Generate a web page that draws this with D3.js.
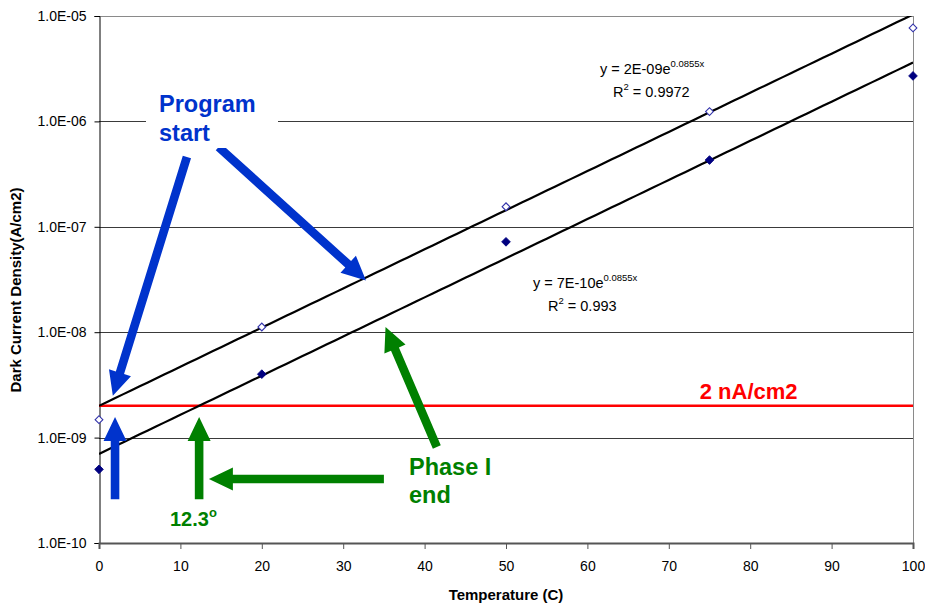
<!DOCTYPE html>
<html>
<head>
<meta charset="utf-8">
<script src="https://cdn.jsdelivr.net/npm/d3@7"></script>
<style>
  html, body { margin: 0; padding: 0; background: #fff; }
  svg { display: block; font-family: Arial, "Liberation Sans", sans-serif; }
</style>
</head>
<body>
<svg id="chart" width="925" height="605"></svg>
<script>
// ---- data ----
const temperatures = [0, 20, 50, 75, 100];
const densityOpen = [1.48e-9, 1.12e-8, 1.55e-7, 1.24e-6, 7.7e-6];   // open diamonds
const densityFilled = [5.0e-10, 4.0e-9, 7.2e-8, 4.3e-7, 2.7e-6];   // filled diamonds
const fitOpen = { a: 2e-9, k: 0.0855, label: "y = 2E-09e", exp: "0.0855x", r2: "0.9972" };
const fitFilled = { a: 7e-10, k: 0.0855, label: "y = 7E-10e", exp: "0.0855x", r2: "0.993" };
const limitValue = 2e-9;
const yTicks = [1e-10, 1e-9, 1e-8, 1e-7, 1e-6, 1e-5];
const yTickLabels = ["1.0E-10", "1.0E-09", "1.0E-08", "1.0E-07", "1.0E-06", "1.0E-05"];
const xTicks = [0, 10, 20, 30, 40, 50, 60, 70, 80, 90, 100];

// ---- layout ----
const svg = d3.select("#chart");
const L = 99, R = 913, T = 16, B = 543;
const x = d3.scaleLinear().domain([0, 100]).range([L, R]);
const y = d3.scaleLog().domain([1e-10, 1e-5]).range([B, T]);

// gridlines
svg.append("g").selectAll("line").data(yTicks.filter(d => d > 1e-10)).join("line")
  .attr("x1", L).attr("x2", R)
  .attr("y1", d => Math.round(y(d)) + 0.5).attr("y2", d => Math.round(y(d)) + 0.5)
  .attr("stroke", d => d === 1e-5 ? "#8a8a8a" : "#3a3a3a").attr("stroke-width", 1);

// right border
svg.append("line").attr("x1", R + 0.5).attr("x2", R + 0.5).attr("y1", T).attr("y2", B)
  .attr("stroke", "#8a8a8a");

// y axis
const yAxis = d3.axisLeft(y).tickValues(yTicks).tickFormat((d, i) => yTickLabels[i]).tickSize(5).tickPadding(8);
const gy = svg.append("g").attr("transform", `translate(${L + 0.5},0)`).call(yAxis);
gy.select(".domain").attr("stroke", "#000");
gy.selectAll(".tick line").attr("stroke", "#000");
gy.selectAll("text").attr("font-size", 14).attr("fill", "#000").attr("font-family", "Arial, 'Liberation Sans', sans-serif");

// x axis
const xAxis = d3.axisBottom(x).tickValues(xTicks).tickSize(6).tickPadding(12);
const gx = svg.append("g").attr("transform", `translate(0,${B})`).call(xAxis);
gx.select(".domain").attr("stroke", "#555").attr("stroke-width", 2);
gx.selectAll(".tick line").attr("stroke", "#555").attr("stroke-width", 1);
gx.selectAll("text").attr("font-size", 14).attr("fill", "#000").attr("font-family", "Arial, 'Liberation Sans', sans-serif");

// axis titles
svg.append("text").attr("x", 506).attr("y", 600).attr("text-anchor", "middle")
  .attr("font-size", 15).attr("font-weight", "bold").text("Temperature (C)");
svg.append("text").attr("transform", "translate(21,290) rotate(-90)").attr("text-anchor", "middle")
  .attr("font-size", 15).attr("font-weight", "bold").text("Dark Current Density(A/cm2)");

// limit line
svg.append("line").attr("x1", L).attr("x2", R).attr("y1", y(limitValue)).attr("y2", y(limitValue))
  .attr("stroke", "#ff0000").attr("stroke-width", 2.5);
svg.append("text").attr("x", x(73.8)).attr("y", y(limitValue) - 7)
  .attr("font-size", 22).attr("font-weight", "bold").attr("fill", "#ff0000").text("2 nA/cm2");

// trendlines
svg.append("clipPath").attr("id", "plotclip").append("rect")
  .attr("x", L).attr("y", T).attr("width", R - L).attr("height", B - T);
const xs = d3.range(0, 100.01, 1);
const line = d3.line().x(d => x(d[0])).y(d => y(d[1]));
[fitOpen, fitFilled].forEach(f => {
  svg.append("path").attr("clip-path", "url(#plotclip)")
    .attr("d", line(xs.map(t => [t, f.a * Math.exp(f.k * t)])))
    .attr("fill", "none").attr("stroke", "#000").attr("stroke-width", 2.2);
});

// markers
const sym = s => d3.symbol().type(d3.symbolSquare).size(s)();
svg.append("g").selectAll("path").data(temperatures.map((t, i) => [t, densityOpen[i]])).join("path")
  .attr("d", sym(30))
  .attr("transform", d => `translate(${x(d[0])},${y(d[1])}) rotate(45)`)
  .attr("fill", "#fff").attr("stroke", "#3333aa").attr("stroke-width", 1.1);
svg.append("g").selectAll("path").data(temperatures.map((t, i) => [t, densityFilled[i]])).join("path")
  .attr("d", sym(38))
  .attr("transform", d => `translate(${x(d[0])},${y(d[1])}) rotate(45)`)
  .attr("fill", "#000080").attr("stroke", "#000080").attr("stroke-width", 0.8);

// equation labels
function eq(f, x0, yb, rx) {
  const t = svg.append("text").attr("x", x0).attr("y", yb).attr("font-size", 14.5).attr("fill", "#000");
  t.append("tspan").text(f.label);
  t.append("tspan").attr("dy", -7).attr("font-size", 9.5).text(f.exp);
  const t2 = svg.append("text").attr("x", rx).attr("y", yb + 23).attr("font-size", 14.5).attr("fill", "#000");
  t2.append("tspan").text("R");
  t2.append("tspan").attr("dy", -7).attr("font-size", 9.5).text("2");
  t2.append("tspan").attr("dy", 7).text(" = " + f.r2);
}
eq(fitOpen, 600, 74, 613);
eq(fitFilled, 533, 288, 548);

// arrows (annotation coordinates in data units)
function arrow(t0, v0, t1, v1, color) {
  const x1 = x(t0), y1 = y(v0), x2 = x(t1), y2 = y(v1);
  const dx = x2 - x1, dy = y2 - y1, len = Math.hypot(dx, dy);
  const ux = dx / len, uy = dy / len, nx = -uy, ny = ux;
  const sw = 4.3, hw = 11.5, hl = 24;
  const bx = x2 - ux * hl, by = y2 - uy * hl;
  const pts = [
    [x1 + nx * sw, y1 + ny * sw], [bx + nx * sw, by + ny * sw], [bx + nx * hw, by + ny * hw],
    [x2, y2], [bx - nx * hw, by - ny * hw], [bx - nx * sw, by - ny * sw], [x1 - nx * sw, y1 - ny * sw]
  ];
  svg.append("path").attr("d", "M" + pts.map(p => p.join(",")).join("L") + "Z").attr("fill", color);
}
const blue = "#0033cc", green = "#008000";
arrow(1.97, 2.6e-10, 1.97, 1.57e-9, blue);
arrow(12.3, 2.6e-10, 12.3, 1.57e-9, green);
arrow(35, 4.05e-10, 13.5, 4.05e-10, green);
arrow(41.5, 8.15e-10, 35.2, 1.12e-8, green);
arrow(10.8, 4.6e-7, 1.7, 2.5e-9, blue);
arrow(14.7, 5.7e-7, 32.8, 3.1e-8, blue);

// annotation texts
svg.append("rect").attr("x", 146).attr("y", 88).attr("width", 132).attr("height", 60).attr("fill", "#fff");
svg.append("text").attr("x", 159).attr("y", 112).attr("font-size", 23.5).attr("font-weight", "bold").attr("fill", blue).text("Program");
svg.append("text").attr("x", 159).attr("y", 141).attr("font-size", 23.5).attr("font-weight", "bold").attr("fill", blue).text("start");
svg.append("text").attr("x", 409).attr("y", 475).attr("font-size", 23.5).attr("font-weight", "bold").attr("fill", green).text("Phase I");
svg.append("text").attr("x", 409).attr("y", 503).attr("font-size", 23.5).attr("font-weight", "bold").attr("fill", green).text("end");
const deg = svg.append("text").attr("x", 170).attr("y", 526).attr("font-size", 20).attr("font-weight", "bold").attr("fill", green);
deg.append("tspan").text("12.3");
deg.append("tspan").attr("dy", -9).attr("font-size", 13).text("o");
</script>
</body>
</html>
